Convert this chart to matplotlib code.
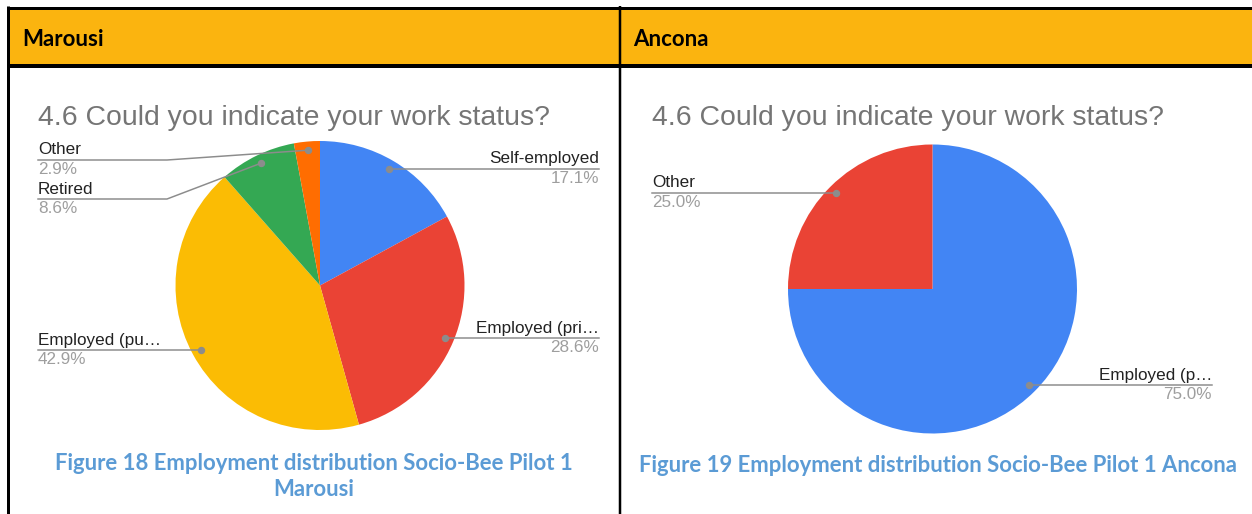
import numpy as np
import matplotlib.pyplot as plt
from matplotlib.patches import Rectangle

W, H = 1252, 514
DPI = 100

# pilot data
marousi_labels = ["Self-employed", "Employed (pri…", "Employed (pu…", "Retired", "Other"]
marousi_values = [17.1, 28.6, 42.9, 8.6, 2.9]
ancona_labels = ["Employed (p…", "Other"]
ancona_values = [75.0, 25.0]

question = "4.6 Could you indicate your work status?"
headers = ["Marousi", "Ancona"]

BLUE, RED, YELLOW, GREEN, ORANGE = "#4285F4", "#EA4335", "#FBBC04", "#34A853", "#FF6D01"
marousi_colors = [BLUE, RED, YELLOW, GREEN, ORANGE]
ancona_colors = [BLUE, RED]

HEAD_BG = "#FBB40F"
CAPTION = "#5B9BD5"
LEADER = "#8C8C8C"
PCT_GREY = "#9E9E9E"
TITLE_GREY = "#757575"

px = 72 / DPI  # points per pixel

fig = plt.figure(figsize=(W / DPI, H / DPI), dpi=DPI)
fig.patch.set_facecolor("white")

# overlay in pixel coordinates for the table, text and leader lines
ov = fig.add_axes([0, 0, 1, 1], zorder=3)
ov.set_xlim(0, W)
ov.set_ylim(H, 0)
ov.axis("off")
ov.patch.set_alpha(0)

# table frame
ov.add_patch(Rectangle((8, 8), W - 8, 58, facecolor=HEAD_BG, edgecolor="none", zorder=1))
ov.plot([7, W], [7.5, 7.5], color="black", lw=3 * px, zorder=2, solid_capstyle="butt")
ov.plot([7, W], [66, 66], color="black", lw=4 * px, zorder=2, solid_capstyle="butt")
ov.plot([8, 8], [6, H], color="black", lw=3 * px, zorder=2, solid_capstyle="butt")
ov.plot([619.5, 619.5], [6, H], color="black", lw=2.5 * px, zorder=2, solid_capstyle="butt")

hfont = dict(family=["Lato", "DejaVu Sans"], fontweight="bold", fontsize=16, color="black")
ov.text(22, 39, headers[0], ha="left", va="center", **hfont)
ov.text(633, 39, headers[1], ha="left", va="center", **hfont)

tfont = dict(family=["Liberation Sans", "DejaVu Sans"], fontsize=20.4, color=TITLE_GREY)
ov.text(38, 125, question, ha="left", va="baseline", **tfont)
ov.text(652, 125, question, ha="left", va="baseline", **tfont)

cfont = dict(family=["Lato", "DejaVu Sans"], fontweight="bold", fontsize=15.9, color=CAPTION)
ov.text(314, 463, "Figure 18 Employment distribution Socio-Bee Pilot 1", ha="center", va="center", **cfont)
ov.text(314, 490, "Marousi", ha="center", va="center", **cfont)
ov.text(938, 466, "Figure 19 Employment distribution Socio-Bee Pilot 1 Ancona", ha="center", va="center", **cfont)

# leader layout per slice: (line_y or None, bend_x or None, end_x, side)
marousi_layout = [
    (None, None, 599, "right"),
    (None, None, 599, "right"),
    (None, None, 38, "left"),
    (199, 167, 38, "left"),
    (160, 167, 38, "left"),
]
ancona_layout = [
    (None, None, 1212, "right"),
    (None, None, 652, "left"),
]

lfont = dict(family=["Liberation Sans", "DejaVu Sans"], fontsize=12.3)


def draw_pie(cx, cy, r, values, colors, labels, layout):
    ax = fig.add_axes([(cx - r) / W, (H - cy - r) / H, 2 * r / W, 2 * r / H], zorder=2)
    wedges, _ = ax.pie(values, colors=colors, startangle=90, counterclock=False,
                       radius=1, wedgeprops=dict(linewidth=0))
    ax.set_xlim(-1, 1)
    ax.set_ylim(-1, 1)
    ax.set_aspect("equal")
    ax.axis("off")
    total = sum(values)
    for w, val, lab, (line_y, bend_x, end_x, side) in zip(wedges, values, labels, layout):
        mid = np.deg2rad((w.theta1 + w.theta2) / 2)
        dx = cx + 0.94 * r * np.cos(mid)
        dy = cy - 0.94 * r * np.sin(mid)
        if line_y is None:
            xs, ys = [dx, end_x], [dy, dy]
            ly = dy
        else:
            xs, ys = [dx, bend_x, end_x], [dy, line_y, line_y]
            ly = line_y
        ov.plot(xs, ys, color=LEADER, lw=1.5 * px, zorder=4)
        ov.plot([dx], [dy], "o", color=LEADER, ms=6 * px, zorder=5)
        ov.text(end_x, ly - 2.5, lab, ha=side, va="bottom", color="#222222", zorder=5, **lfont)
        ov.text(end_x, ly + 2, f"{val / total * 100:.1f}%", ha=side, va="top",
                color=PCT_GREY, zorder=5, **lfont)


draw_pie(320, 285.5, 144.5, marousi_values, marousi_colors, marousi_labels, marousi_layout)
draw_pie(932.5, 289, 144.5, ancona_values, ancona_colors, ancona_labels, ancona_layout)

fig.savefig("out.png", dpi=DPI)
